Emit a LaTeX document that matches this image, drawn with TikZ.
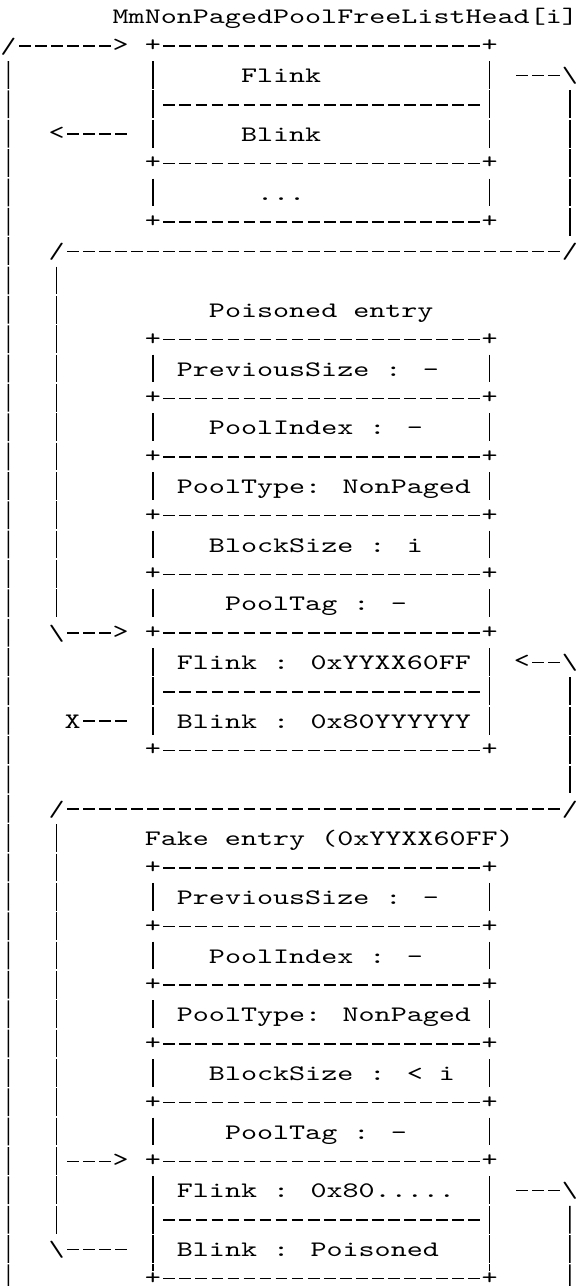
\documentclass[tikz,border=0pt]{standalone}
\usepackage{fontspec}
\newfontfamily\asciifont{lmmono10-regular.otf}[FakeStretch=1.383]
\newcommand\asplus{\raisebox{0.9pt}{+}}
\newcommand\asgt{\raisebox{0.9pt}{>}}
\newcommand\aslt{\raisebox{0.9pt}{<}}

\begin{document}
\begin{tikzpicture}
  [x=8.025pt, y=-14.68pt,
   every node/.style={font={\asciifont\fontsize{11.05pt}{14.68pt}\selectfont},
     inner sep=0pt, anchor=base west, text height=10.98pt, text depth=3.7pt},
   stub/.style={minimum width=8.025pt},
   lastrow/.style={text height=7.28pt, text depth=0pt},
   hrun/.style={line width=0.75pt, dash pattern=on 5.85pt off 2.175pt, dash phase=6.9375pt},
   vrun/.style={line width=0.75pt, dash pattern=on 13.88pt off 0.8pt}]
  \useasboundingbox (0,-0.8174) rectangle (36,43);

  \node (head) at (7,0) {MmNonPagedPoolFreeListHead[i]};
  \node (l0) at (0,1) {/};
  \node (a1) at (7,1) {\asgt};
  \node[stub] (lend) at (0,44) {};
  \draw[hrun] (l0) -- (a1);
  \draw[vrun] (l0) -- (lend);

  \foreach \r in {1,5,7} {
    \node (hl\r) at (9,\r) {\asplus};
    \node (hr\r) at (30,\r) {\asplus};
    \draw[hrun] (hl\r) -- (hr\r);
  }
  \foreach \a/\b in {1/5,5/7} {
    \draw[vrun] (hl\a) -- (hl\b);
    \draw[vrun] (hr\a) -- (hr\b);
  }
  \node (hf) at (15,2) {Flink};
  \node (hb) at (15,4) {Blink};
  \node (hd) at (16,6) {...};
  \node[stub] (s3a) at (9,3) {};
  \node[stub] (s3b) at (30,3) {};
  \draw[hrun] (s3a) -- (s3b);

  \node[stub] (o2) at (31,2) {};
  \node (r2) at (35,2) {\textbackslash};
  \draw[hrun] (o2) -- (r2);
  \node (a4) at (3,4) {\aslt};
  \node[stub] (o4) at (8,4) {};
  \draw[hrun] (a4) -- (o4);
  \node (p8) at (3,8) {/};
  \node (r8) at (35,8) {/};
  \draw[hrun] (p8) -- (r8);
  \draw[vrun] (r2) -- (r8);

  \node (poison) at (13,10) {Poisoned entry};
  \foreach \r in {11,13,15,17,19,21,25} {
    \node (pl\r) at (9,\r) {\asplus};
    \node (pr\r) at (30,\r) {\asplus};
    \draw[hrun] (pl\r) -- (pr\r);
  }
  \foreach \a/\b in {11/13,13/15,15/17,17/19,19/21,21/25} {
    \draw[vrun] (pl\a) -- (pl\b);
    \draw[vrun] (pr\a) -- (pr\b);
  }
  \node (pps) at (11,12) {PreviousSize : -};
  \node (ppi) at (13,14) {PoolIndex : -};
  \node (ppt) at (11,16) {PoolType: NonPaged};
  \node (pbs) at (13,18) {BlockSize : i};
  \node (ptag) at (14,20) {PoolTag : -};
  \node (pfl) at (11,22) {Flink : 0xYYXX60FF};
  \node (pbl) at (11,24) {Blink : 0x80YYYYYY};
  \node[stub] (s23a) at (9,23) {};
  \node[stub] (s23b) at (30,23) {};
  \draw[hrun] (s23a) -- (s23b);

  \node (b21) at (3,21) {\textbackslash};
  \node (a21) at (7,21) {\asgt};
  \draw[hrun] (b21) -- (a21);
  \draw[vrun] (p8) -- (b21);
  \node (a22) at (32,22) {\aslt};
  \node (r22) at (35,22) {\textbackslash};
  \draw[hrun] (a22) -- (r22);
  \node (x24) at (4,24) {X};
  \node[stub] (o24) at (8,24) {};
  \draw[hrun] (x24) -- (o24);
  \node (p27) at (3,27) {/};
  \node (r27) at (35,27) {/};
  \draw[hrun] (p27) -- (r27);
  \draw[vrun] (r22) -- (r27);

  \node (fake) at (9,28) {Fake entry (0xYYXX60FF)};
  \foreach \r in {29,31,33,35,37,39} {
    \node (fl\r) at (9,\r) {\asplus};
    \node (fr\r) at (30,\r) {\asplus};
    \draw[hrun] (fl\r) -- (fr\r);
  }
  \node[lastrow] (fl43) at (9,43) {\asplus};
  \node[lastrow] (fr43) at (30,43) {\asplus};
  \draw[hrun] (fl43) -- (fr43);
  \foreach \a/\b in {29/31,31/33,33/35,35/37,37/39,39/43} {
    \draw[vrun] (fl\a) -- (fl\b);
    \draw[vrun] (fr\a) -- (fr\b);
  }
  \node (fps) at (11,30) {PreviousSize : -};
  \node (fpi) at (13,32) {PoolIndex : -};
  \node (fpt) at (11,34) {PoolType: NonPaged};
  \node (fbs) at (13,36) {BlockSize : < i};
  \node (ftag) at (14,38) {PoolTag : -};
  \node (ffl) at (11,40) {Flink : 0x80.....};
  \node (fbl) at (11,42) {Blink : Poisoned};
  \node[stub] (s41a) at (9,41) {};
  \node[stub] (s41b) at (30,41) {};
  \draw[hrun] (s41a) -- (s41b);

  \node[stub] (o39) at (3,39) {};
  \node (a39) at (7,39) {\asgt};
  \draw[hrun] (o39) -- (a39);
  \node[stub] (o40) at (31,40) {};
  \node (r40) at (35,40) {\textbackslash};
  \node[stub] (rend) at (35,44) {};
  \draw[hrun] (o40) -- (r40);
  \draw[vrun] (r40) -- (rend);
  \node (b42) at (3,42) {\textbackslash};
  \node[stub] (o42) at (8,42) {};
  \draw[hrun] (b42) -- (o42);
  \draw[vrun] (p27) -- (b42);
\end{tikzpicture}
\end{document}
